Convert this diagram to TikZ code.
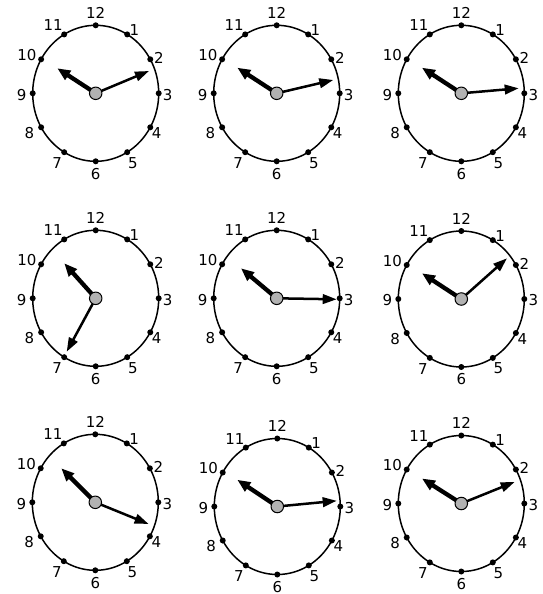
\documentclass[tikz,border=0pt]{standalone}
\usepackage{fontspec}
\setmainfont{DejaVu Sans}
\usetikzlibrary{arrows.meta,calc}
\tikzset{
  face/.style={draw=black,line width=1.5pt},
  tickdot/.style={fill=black},
  numlab/.style={font=\fontsize{15}{15}\selectfont,inner sep=0pt},
  hourhand/.style={line width=4.3pt,-{Triangle[length=13pt,width=10.5pt]}},
  minhand/.style={line width=2.5pt,-{Triangle[length=14pt,width=9.5pt]}},
  hub/.style={circle,draw=black,line width=1pt,fill=black!30,minimum size=12.5pt,inner sep=0pt}
}
\newcommand\myclock[7]{%
  \coordinate (#1) at (#2,#3);
  \draw[face] (#1) ellipse [x radius=63, y radius=68];
  \foreach \k/\dx/\dy in {12/0/-12.4,1/7.3/-4.5,2/8.6/-1.5,3/9/1.5,4/6.5/6,5/5.6/10.6,6/0/12.3,7/-7/11,8/-11.7/6,9/-11/1.5,10/-14.3/-4,11/-11/-9}{%
    \pgfmathsetmacro\ang{90-30*\k}
    \coordinate (#1-d\k) at ($(#1)+({63*cos(\ang)},{-68*sin(\ang)})$);
    \fill[tickdot] (#1-d\k) circle[radius=3pt];
    \node[numlab] (#1-l\k) at ($(#1-d\k)+(\dx,\dy)$) {\k};
  }
  \coordinate (#1-h) at ($(#1)+(#4,#5)$);
  \coordinate (#1-m) at ($(#1)+(#6,#7)$);
  \draw[hourhand] (#1) -- (#1-h);
  \draw[minhand] (#1) -- (#1-m);
  \node[hub] (#1-c) at (#1) {};
}
\begin{document}
\begin{tikzpicture}[x=1pt,y=-1pt]
\useasboundingbox (0,0) rectangle (542,594);
\myclock{a}{95.7}{93.3}{-38.4}{-25}{53.3}{-22.3}
\myclock{b}{276.7}{93.3}{-39.4}{-25.6}{56.6}{-13.3}
\myclock{c}{461.3}{93.3}{-39.3}{-25.6}{57.4}{-5}
\myclock{d}{95.7}{298.3}{-31.4}{-35}{-29}{53.4}
\myclock{e}{276.7}{298.3}{-35.7}{-30}{60}{1}
\myclock{f}{461.3}{299}{-39.3}{-25.7}{45.7}{-40.7}
\myclock{g}{95.3}{502.3}{-34}{-34}{53.3}{21.7}
\myclock{h}{277.3}{506.5}{-40}{-26.7}{59.4}{-5.7}
\myclock{i}{461.3}{503.5}{-39.3}{-25}{53.4}{-21.6}
\end{tikzpicture}
\end{document}
